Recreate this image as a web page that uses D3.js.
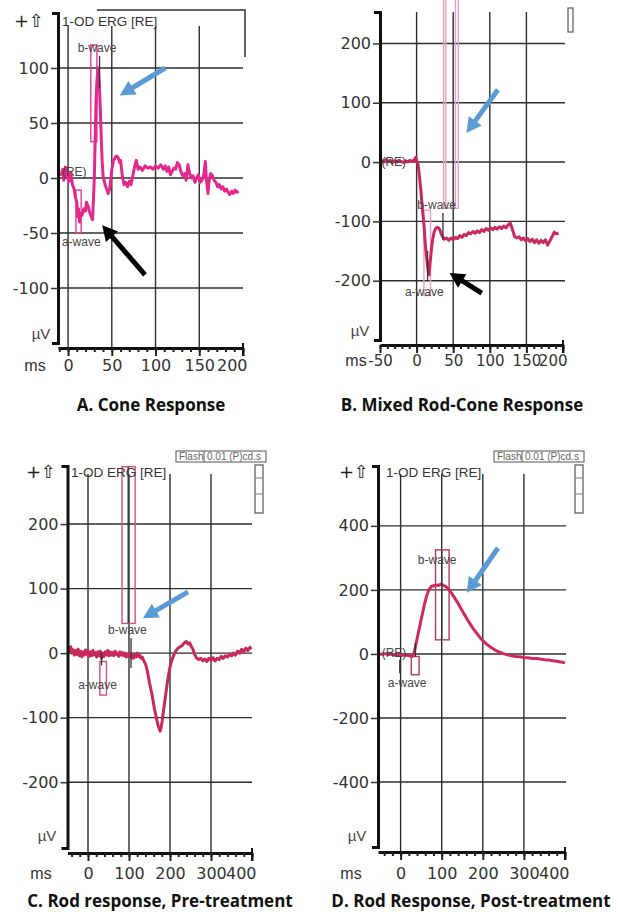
<!DOCTYPE html>
<html>
<head>
<meta charset="utf-8">
<script src="https://cdn.jsdelivr.net/npm/d3@7/dist/d3.min.js"></script>
<style>
  body { margin: 0; background: #fff; }
</style>
</head>
<body>
<div id="chart"></div>
<script>
// ---- data: [ms, µV] ----
const coneTrace = [[-8,2],[-6,8],[-5,-2],[-3,10],[-1,0],[0,6],[1,-3],[3,4],[5,-6],[7,-10],[8,-16],[10,-22],[11,-35],[12,-28],[13,-40],[14,-32],[16,-34],[18,-28],[20,-30],[21,-22],[23,-26],[25,-32],[27,-36],[28,-38],[29,-20],[30,0],[31,35],[32,70],[33,88],[34,100],[35,95],[36,80],[37,60],[38,35],[39,15],[40,2],[42,-5],[44,-10],[46,-14],[48,-8],[50,8],[52,16],[55,20],[57,19],[59,14],[60,16],[62,2],[64,-6],[66,-4],[68,-8],[70,-3],[72,-6],[74,2],[76,10],[78,16],[80,8],[82,10],[85,7],[88,11],[91,9],[94,10],[97,8],[100,11],[103,9],[106,12],[109,8],[111,11],[113,6],[115,10],[117,3],[119,6],[121,9],[123,8],[125,14],[127,12],[129,6],[131,2],[133,4],[135,-2],[137,12],[139,4],[141,0],[143,2],[145,-4],[147,0],[149,3],[151,-4],[153,-2],[155,2],[157,15],[158,0],[160,-14],[161,-4],[163,4],[165,2],[167,-2],[169,-4],[171,-8],[173,-6],[175,-10],[177,-8],[179,-12],[181,-10],[183,-13],[185,-15],[187,-12],[189,-14],[191,-11],[193,-13],[195,-12]];

const mixedTrace = [[-48,3],[-45,0],[-42,4],[-39,1],[-36,3],[-33,-1],[-30,2],[-27,0],[-24,3],[-21,1],[-18,-1],[-15,2],[-12,0],[-9,3],[-6,1],[-3,4],[-1,8],[0,2],[2,-4],[4,-25],[6,-50],[8,-80],[10,-105],[12,-140],[14,-165],[16,-185],[17,-190],[18,-175],[20,-150],[22,-130],[24,-118],[26,-112],[28,-110],[30,-111],[32,-115],[34,-122],[36,-127],[38,-130],[41,-128],[44,-132],[47,-128],[50,-131],[53,-127],[56,-129],[59,-124],[62,-127],[65,-122],[68,-124],[71,-119],[74,-121],[77,-117],[80,-120],[83,-116],[86,-119],[89,-114],[92,-117],[95,-112],[98,-115],[101,-111],[104,-114],[107,-110],[110,-113],[113,-109],[116,-112],[119,-108],[122,-111],[125,-106],[128,-103],[130,-110],[132,-118],[134,-126],[137,-128],[140,-126],[143,-131],[146,-128],[149,-133],[152,-129],[155,-134],[158,-130],[161,-136],[164,-131],[167,-137],[170,-132],[173,-136],[176,-131],[179,-140],[182,-133],[185,-126],[188,-118],[191,-121],[194,-120]];

const rodPreTrace = [[-48,6],[-45,2],[-42,10],[-39,0],[-36,5],[-33,-3],[-30,4],[-27,-2],[-24,6],[-21,-4],[-18,3],[-15,-6],[-12,2],[-9,-3],[-6,5],[-3,-2],[0,3],[3,-5],[6,2],[9,-4],[12,4],[15,-3],[18,1],[21,-6],[24,2],[27,-4],[30,3],[33,-8],[36,0],[39,-5],[42,2],[45,-3],[48,4],[51,-4],[54,2],[57,-3],[60,1],[63,-4],[66,3],[69,-2],[72,0],[75,-5],[78,2],[81,-3],[84,1],[87,-4],[90,0],[93,-6],[96,-2],[99,-5],[102,0],[105,-7],[108,-2],[111,-8],[114,-3],[117,-6],[120,0],[123,-5],[126,-3],[129,-8],[132,-6],[135,-10],[138,-14],[141,-18],[144,-26],[147,-35],[150,-46],[153,-55],[156,-64],[159,-75],[162,-86],[165,-95],[168,-104],[171,-112],[174,-118],[176,-121],[178,-116],[181,-105],[184,-90],[187,-76],[190,-62],[193,-48],[196,-36],[199,-25],[202,-16],[206,-8],[210,-2],[215,4],[220,8],[225,10],[230,12],[235,16],[240,18],[244,14],[248,16],[252,10],[256,6],[260,-2],[265,-8],[270,-10],[275,-8],[280,-12],[285,-9],[290,-13],[295,-8],[300,-11],[305,-7],[310,-12],[315,-8],[320,-10],[325,-5],[330,-8],[335,-4],[340,-6],[345,-2],[350,-4],[355,0],[360,-3],[365,3],[370,0],[375,6],[380,2],[385,8],[390,4],[395,9],[398,6]];

const rodPostTrace = [[-52,0],[-45,-1],[-38,1],[-30,-2],[-22,0],[-15,-3],[-8,-2],[0,-3],[8,-4],[15,-4],[22,-6],[27,-8],[30,-6],[34,10],[38,35],[43,65],[48,95],[53,125],[58,155],[63,180],[68,198],[74,210],[80,213],[86,215],[92,214],[98,218],[104,214],[110,210],[117,202],[124,190],[131,176],[138,162],[145,146],[152,130],[159,115],[166,100],[173,86],[180,73],[187,62],[194,50],[201,40],[210,30],[220,20],[230,12],[240,6],[250,1],[260,-3],[270,-6],[280,-8],[290,-9],[300,-11],[310,-12],[320,-14],[330,-14],[340,-16],[350,-18],[360,-19],[370,-21],[380,-23],[390,-25],[400,-28]];

// tick labels
const coneXTicks = [0, 50, 100, 150, 200];
const coneYTicks = [-100, -50, 0, 50, 100];
const mixedXTicks = [-50, 0, 50, 100, 150, 200];
const mixedYTicks = [-200, -100, 0, 100, 200];
const rodXTicks = [0, 100, 200, 300, 400];
const rodPreYTicks = [-200, -100, 0, 100, 200];
const rodPostYTicks = [-400, -200, 0, 200, 400];

// cursor boxes [t0, t1, vLow, vHigh] and marker lines [t, v0, v1]
const coneBoxes = [[26, 33, 33, 121], [9, 15, -50, -11]];
const mixedBoxes = [[37, 57, -78, 275], [40, 53, -78, 275], [10, 19, -225, -81]];
const rodPreBoxes = [[83, 115, 46, 289], [29, 45, -65, -13]];
const rodPostBoxes = [[85, 118, 44, 325], [26, 45, -65, -8]];
const coneMarkers = [[36, 82, 111]];
const mixedMarkers = [[36, -86, -132], [15, -150, -200]];
const rodPreMarkers = [[98, 46, 289], [105, -23, 23], [33, -19, 2]];
const rodPostMarkers = [[100, 44, 325], [-2, -60, -19], [36, -9, 34]];

// wave labels [text, t, v]
const coneNotes = [['b-wave', 11, 115], ['a-wave', -7, -62], ['(RE)', -7, 2]];
const mixedNotes = [['b-wave', 1, -79], ['a-wave', -16, -226], ['(RE)', -48, -7]];
const rodPreNotes = [['b-wave', 49, 29], ['a-wave', -24, -56]];
const rodPostNotes = [['b-wave', 42, 281], ['a-wave', -31, -103], ['(RE)', -46, -9]];

// arrows [colour, t0, v0, t1, v1]
const coneArrows = [['#5b9bd5', 111, 100, 59, 75], ['#000', 88, -88, 39, -43]];
const mixedArrows = [['#5b9bd5', 111, 122, 68, 49], ['#000', 89, -221, 45, -187]];
const rodPreArrows = [['#5b9bd5', 244, 95, 134, 54]];
const rodPostArrows = [['#5b9bd5', 237, 331, 161, 191]];

const panels = [
  { trace: coneTrace, boxes: coneBoxes, markers: coneMarkers, notes: coneNotes, arrows: coneArrows,
    xTicks: coneXTicks, yTicks: coneYTicks, minor: 10, tickFont: 16,
    xDomain: [-11.5, 200], xRange: [58, 243], yDomain: [-150, 150], yRange: [343, 13],
    xAxisY: 348, gridRight: 243, gridTop: 26, labelBase: 371,
    color: '#e2288a', boxColor: '#e23c94', msX: 35, muX: 41, muY: 339,
    caption: 'A. Cone Response', capX: 151, capY: 411, header: [14, 27, 62] },
  { trace: mixedTrace, boxes: mixedBoxes, markers: mixedMarkers, notes: mixedNotes, arrows: mixedArrows,
    xTicks: mixedXTicks, yTicks: mixedYTicks, minor: 10, tickFont: 15,
    xDomain: [-50, 200], xRange: [380, 563], yDomain: [-300, 253], yRange: [340, 12],
    xAxisY: 345, gridRight: 565, gridTop: 12, labelBase: 366,
    color: '#c92a5e', boxColor: '#ee9cbf', msX: 356, muX: 360, muY: 336,
    caption: 'B. Mixed Rod-Cone Response', capX: 462, capY: 411, header: null },
  { trace: rodPreTrace, boxes: rodPreBoxes, markers: rodPreMarkers, notes: rodPreNotes, arrows: rodPreArrows,
    xTicks: rodXTicks, yTicks: rodPreYTicks, minor: 20, tickFont: 16,
    xDomain: [-50, 400], xRange: [67.5, 252], yDomain: [-302, 290], yRange: [848, 466],
    xAxisY: 853, gridRight: 252, gridTop: 474, labelBase: 879,
    color: '#c8285a', boxColor: '#d4507c', msX: 41, muX: 47, muY: 841,
    caption: 'C. Rod response, Pre-treatment', capX: 160, capY: 907, header: [26, 478, 71], flash: 176, side: 255 },
  { trace: rodPostTrace, boxes: rodPostBoxes, markers: rodPostMarkers, notes: rodPostNotes, arrows: rodPostArrows,
    xTicks: rodXTicks, yTicks: rodPostYTicks, minor: 20, tickFont: 16,
    xDomain: [-55, 400], xRange: [378, 565], yDomain: [-603, 587], yRange: [847, 466],
    xAxisY: 852, gridRight: 566, gridTop: 474, labelBase: 879,
    color: '#d02862', boxColor: '#b8385c', msX: 351, muX: 357, muY: 841,
    caption: 'D. Rod Response, Post-treatment', capX: 471, capY: 907, header: [339, 478, 386], flash: 494, side: 575 }
];

const svg = d3.select('#chart').append('svg')
  .attr('width', 618).attr('height', 912)
  .style('font-family', '"Liberation Sans", Arial, sans-serif');

// plain hyphen-minus like the original printout
const plain = d => String(d);

function arrowPath(x0, y0, x1, y1, w, hl, hw) {
  // shaft + triangular head, computed in pixel space
  const a = Math.atan2(y1 - y0, x1 - x0);
  const ux = Math.cos(a), uy = Math.sin(a), px = -uy, py = ux;
  const bx = x1 - ux * hl, by = y1 - uy * hl;
  const pts = [
    [x0 + px * w / 2, y0 + py * w / 2], [bx + px * w / 2, by + py * w / 2],
    [bx + px * hw / 2, by + py * hw / 2], [x1, y1],
    [bx - px * hw / 2, by - py * hw / 2], [bx - px * w / 2, by - py * w / 2],
    [x0 - px * w / 2, y0 - py * w / 2]
  ];
  return 'M' + pts.map(p => p.join(',')).join('L') + 'Z';
}

function drawPanel(p) {
  const x = d3.scaleLinear().domain(p.xDomain).range(p.xRange);
  const y = d3.scaleLinear().domain(p.yDomain).range(p.yRange);
  const g = svg.append('g');
  const x0 = p.xRange[0];

  // grid
  g.selectAll('line.hg').data(p.yTicks).join('line').attr('class', 'hg')
    .attr('x1', x0).attr('x2', p.gridRight).attr('y1', d => y(d)).attr('y2', d => y(d))
    .attr('stroke', '#2e2e2e').attr('stroke-width', 1.4);
  const vTicks = p.xTicks.filter(d => d > p.xDomain[0] + 1 && d < p.xTicks[p.xTicks.length - 1]);
  g.selectAll('line.vg').data(vTicks).join('line').attr('class', 'vg')
    .attr('x1', d => x(d)).attr('x2', d => x(d)).attr('y1', p.gridTop).attr('y2', p.xAxisY)
    .attr('stroke', '#2e2e2e').attr('stroke-width', 1.4);

  // cursor boxes
  g.selectAll('rect.box').data(p.boxes).join('rect').attr('class', 'box')
    .attr('x', d => x(d[0])).attr('width', d => x(d[1]) - x(d[0]))
    .attr('y', d => y(d[3])).attr('height', d => y(d[2]) - y(d[3]))
    .attr('fill', 'none').attr('stroke', p.boxColor).attr('stroke-width', 1.4);

  // trace
  const line = d3.line().x(d => x(d[0])).y(d => y(d[1]));
  g.append('path').datum(p.trace).attr('d', line)
    .attr('fill', 'none').attr('stroke', p.color).attr('stroke-width', 3)
    .attr('stroke-linejoin', 'round');

  // markers
  g.selectAll('line.mk').data(p.markers).join('line').attr('class', 'mk')
    .attr('x1', d => x(d[0])).attr('x2', d => x(d[0])).attr('y1', d => y(d[1])).attr('y2', d => y(d[2]))
    .attr('stroke', '#333').attr('stroke-width', 1.3);

  // wave labels
  g.selectAll('text.note').data(p.notes).join('text').attr('class', 'note')
    .attr('x', d => x(d[1])).attr('y', d => y(d[2]))
    .attr('font-size', 12).attr('fill', '#444').text(d => d[0]);

  // y axis
  const yAxis = d3.axisLeft(y).tickValues(p.yTicks).tickFormat(plain)
    .tickSize(7).tickSizeOuter(6).tickPadding(2);
  const ya = g.append('g').attr('transform', `translate(${x0},0)`).call(yAxis);
  ya.select('.domain').attr('stroke', '#111').attr('stroke-width', 3);
  ya.selectAll('.tick line').attr('stroke', '#333').attr('stroke-width', 1.5);
  ya.selectAll('.tick text').attr('font-family', '"DejaVu Sans", sans-serif')
    .attr('font-size', 16).attr('fill', '#333');

  // x axis: minor and major ticks
  const minorTicks = d3.range(Math.ceil(p.xDomain[0] / p.minor) * p.minor, p.xDomain[1] + 1, p.minor);
  const xMinor = d3.axisBottom(x).tickValues(minorTicks).tickSize(4).tickSizeOuter(0).tickFormat('');
  const xm = g.append('g').attr('transform', `translate(0,${p.xAxisY})`).call(xMinor);
  xm.select('.domain').attr('stroke', '#111').attr('stroke-width', 3);
  xm.selectAll('.tick line').attr('stroke', '#222').attr('stroke-width', 2);
  const xMajor = d3.axisBottom(x).tickValues(p.xTicks).tickFormat(plain)
    .tickSize(8).tickSizeOuter(0).tickPadding(p.labelBase - p.xAxisY - 19);
  const xa = g.append('g').attr('transform', `translate(0,${p.xAxisY})`).call(xMajor);
  xa.select('.domain').remove();
  xa.selectAll('.tick line').attr('stroke', '#222').attr('stroke-width', 2);
  xa.selectAll('.tick text').attr('font-family', '"DejaVu Sans", sans-serif')
    .attr('font-size', p.tickFont).attr('fill', '#333');
  xa.selectAll('.tick').filter((d, i) => i === p.xTicks.length - 1)
    .select('text').attr('text-anchor', 'end').attr('dx', 4);
  // end bracket of x axis
  g.append('line').attr('x1', p.xRange[1]).attr('x2', p.xRange[1])
    .attr('y1', p.xAxisY - 5).attr('y2', p.xAxisY + 8).attr('stroke', '#111').attr('stroke-width', 2);

  // unit labels
  g.append('text').attr('x', p.msX).attr('y', p.labelBase).attr('text-anchor', 'middle')
    .attr('font-size', 16).attr('fill', '#333').text('ms');
  g.append('text').attr('x', p.muX).attr('y', p.muY).attr('text-anchor', 'middle')
    .attr('font-size', 15).attr('fill', '#444').text('µV');

  // header
  if (p.header) {
    g.append('text').attr('x', p.header[0]).attr('y', p.header[1])
      .attr('font-family', '"DejaVu Sans", sans-serif').attr('font-size', 18).attr('fill', '#222').text('+⇧');
    g.append('text').attr('x', p.header[2]).attr('y', p.header[1] - 1)
      .attr('font-size', 13.5).attr('fill', '#333').text('1-OD ERG [RE]');
  }
  if (p.flash) {
    g.append('rect').attr('x', p.flash).attr('y', p.gridTop - 23).attr('width', 90).attr('height', 11)
      .attr('fill', '#fff').attr('stroke', '#555').attr('stroke-width', 1);
    g.append('line').attr('x1', p.flash + 28).attr('x2', p.flash + 28)
      .attr('y1', p.gridTop - 23).attr('y2', p.gridTop - 12).attr('stroke', '#555');
    g.append('text').attr('x', p.flash + 3).attr('y', p.gridTop - 14)
      .attr('font-size', 10).attr('fill', '#666').text('Flash');
    g.append('text').attr('x', p.flash + 31).attr('y', p.gridTop - 14)
      .attr('font-size', 10).attr('fill', '#666').text('0.01 (P)cd.s');
    const sb = g.append('g');
    sb.append('rect').attr('x', p.side).attr('y', p.gridTop - 9).attr('width', 8).attr('height', 48)
      .attr('fill', '#fff').attr('stroke', '#555').attr('stroke-width', 1.2);
    [p.gridTop + 4, p.gridTop + 20].forEach(yy => sb.append('line')
      .attr('x1', p.side).attr('x2', p.side + 8).attr('y1', yy).attr('y2', yy).attr('stroke', '#777'));
  }

  // arrows
  g.selectAll('path.arrow').data(p.arrows).join('path').attr('class', 'arrow')
    .attr('d', d => arrowPath(x(d[1]), y(d[2]), x(d[3]), y(d[4]), 5, 15, 16))
    .attr('fill', d => d[0]);

  // caption
  svg.append('text').attr('x', p.capX).attr('y', p.capY).attr('text-anchor', 'middle')
    .attr('font-family', '"Open Sans", sans-serif').attr('font-weight', 700)
    .attr('font-size', 17).attr('fill', '#111').text(p.caption);
}

panels.forEach(drawPanel);

// panel A frame lines at the top, panel B side box
svg.append('path').attr('d', 'M97,10H245V57').attr('fill', 'none').attr('stroke', '#333').attr('stroke-width', 1.5);
svg.append('rect').attr('x', 568).attr('y', 8).attr('width', 5).attr('height', 24)
  .attr('fill', '#fff').attr('stroke', '#557').attr('stroke-width', 1.2);
</script>
</body>
</html>
